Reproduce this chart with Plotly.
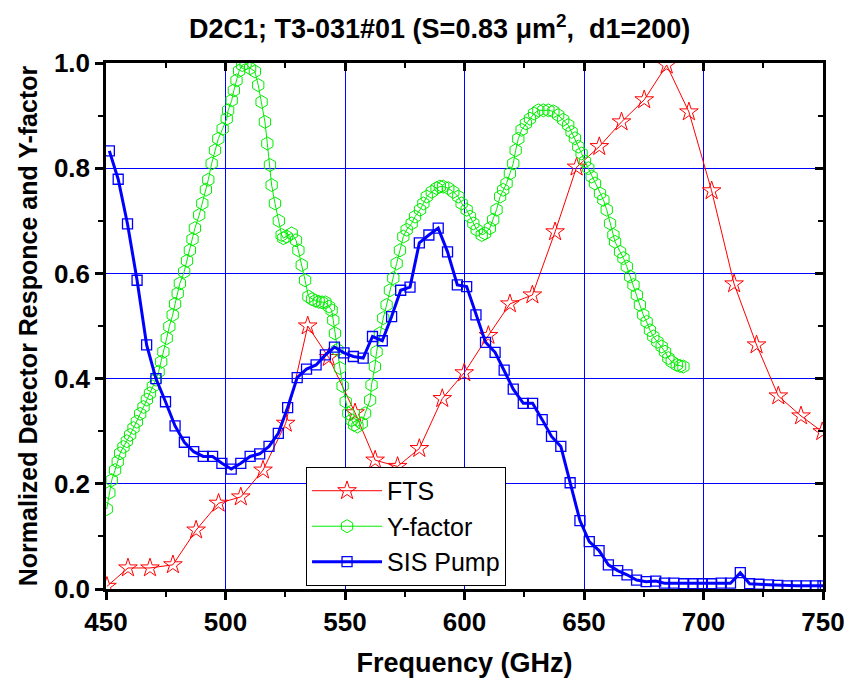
import plotly.graph_objects as go

# ---------------- data ----------------
fts_x = [450.4, 459.2, 468.4, 478.0, 487.7, 497.1, 506.4, 515.7, 525.2, 534.4,
         543.2, 554.2, 562.6, 572.0, 581.1, 590.7, 599.9, 610.0, 619.0, 628.4,
         637.9, 646.9, 656.4, 665.7, 675.2, 684.6, 693.9, 703.4, 712.8, 722.2,
         731.3, 740.8, 749.7]
fts_y = [0.005, 0.040, 0.040, 0.046, 0.112, 0.163, 0.175, 0.226, 0.315, 0.500,
         0.440, 0.335, 0.245, 0.233, 0.267, 0.362, 0.411, 0.482, 0.542, 0.559,
         0.679, 0.802, 0.841, 0.888, 0.930, 0.996, 0.907, 0.757, 0.580, 0.464,
         0.367, 0.329, 0.299]

yf_x = [450.3, 451.4, 452.4, 453.8, 454.9, 455.9, 457.3, 458.7, 460.1, 461.5,
        462.9, 464.3, 465.7, 467.1, 468.4, 469.6, 470.9, 472.0, 473.1, 474.0,
        475.4, 476.5, 477.9, 478.9, 480.0, 480.9, 482.7, 483.9, 485.1, 486.2,
        487.2, 489.0, 490.3, 491.8, 492.8, 494.2, 495.6, 497.0, 498.8, 500.5,
        501.1, 502.6, 503.5, 504.6, 505.7, 507.0, 508.4, 510.3, 512.3, 513.7,
        515.1, 516.5, 517.5, 518.6, 519.3, 520.7, 522.3, 523.5, 524.2, 525.6,
        527.7, 529.5, 530.5, 531.9, 533.3, 534.7, 536.2, 537.6, 539.0, 540.4,
        541.8, 543.3, 544.4, 545.1, 545.8, 546.8, 547.9, 549.0, 550.3, 551.4,
        552.8, 553.8, 555.2, 557.0, 558.4, 560.5, 561.1, 562.5, 563.2, 564.6,
        566.0, 567.4, 568.8, 570.2, 571.6, 573.0, 574.4, 575.8, 577.9, 579.3,
        581.4, 582.8, 584.2, 586.3, 588.3, 589.7, 591.1, 593.2, 595.3, 597.4,
        598.8, 600.9, 602.3, 603.7, 605.1, 607.2, 608.6, 610.6, 612.0, 613.4,
        614.9, 616.2, 617.6, 619.0, 620.4, 621.4, 622.5, 623.9, 625.7, 627.4,
        629.1, 630.9, 633.0, 635.1, 637.2, 639.2, 641.3, 643.4, 644.8, 646.2,
        647.6, 649.0, 650.4, 651.8, 653.2, 654.6, 656.7, 658.1, 659.5, 660.9,
        662.3, 663.0, 665.1, 666.5, 667.9, 669.3, 670.7, 672.1, 673.4, 674.8,
        676.2, 677.6, 679.0, 680.7, 682.5, 683.9, 685.3, 686.7, 688.8, 690.2,
        691.6]
yf_y = [0.152, 0.183, 0.207, 0.226, 0.242, 0.258, 0.270, 0.281, 0.293, 0.306,
        0.318, 0.333, 0.346, 0.360, 0.372, 0.385, 0.398, 0.413, 0.432, 0.451,
        0.477, 0.499, 0.521, 0.542, 0.562, 0.581, 0.603, 0.624, 0.644, 0.665,
        0.686, 0.711, 0.733, 0.759, 0.778, 0.809, 0.834, 0.856, 0.875, 0.894,
        0.910, 0.929, 0.948, 0.967, 0.985, 0.996, 0.999, 0.990, 0.984, 0.958,
        0.926, 0.888, 0.847, 0.806, 0.768, 0.733, 0.700, 0.673, 0.667, 0.670,
        0.676, 0.663, 0.644, 0.616, 0.587, 0.556, 0.551, 0.548, 0.546, 0.545,
        0.545, 0.537, 0.530, 0.511, 0.486, 0.455, 0.420, 0.386, 0.356, 0.334,
        0.321, 0.312, 0.309, 0.315, 0.334, 0.359, 0.388, 0.423, 0.451, 0.486,
        0.515, 0.540, 0.568, 0.591, 0.619, 0.644, 0.670, 0.683, 0.695, 0.708,
        0.721, 0.733, 0.746, 0.755, 0.762, 0.765, 0.765, 0.762, 0.755, 0.746,
        0.733, 0.721, 0.708, 0.695, 0.683, 0.673, 0.676, 0.686, 0.702, 0.721,
        0.746, 0.759, 0.771, 0.790, 0.809, 0.834, 0.856, 0.873, 0.885, 0.894,
        0.904, 0.910, 0.910, 0.910, 0.908, 0.901, 0.892, 0.882, 0.869, 0.857,
        0.841, 0.828, 0.813, 0.800, 0.784, 0.771, 0.752, 0.740, 0.721, 0.695,
        0.673, 0.660, 0.641, 0.629, 0.613, 0.594, 0.578, 0.559, 0.540, 0.521,
        0.508, 0.492, 0.480, 0.470, 0.461, 0.451, 0.439, 0.432, 0.426, 0.424,
        0.423]

sis_x = [451.4, 455.1, 459.0, 463.0, 467.0, 470.9, 474.9, 478.9, 482.8, 486.7,
         490.7, 494.6, 498.5, 502.4, 506.4, 510.3, 514.3, 518.2, 522.1, 526.0,
         530.0, 533.9, 537.9, 541.8, 545.6, 549.6, 553.5, 557.6, 561.5, 565.6,
         569.5, 573.3, 577.2, 581.1, 585.1, 589.0, 592.9, 597.0, 600.9, 604.8,
         608.8, 612.8, 616.6, 620.4, 624.6, 628.5, 632.5, 636.4, 640.3, 644.2,
         648.3, 652.2, 656.3, 660.2, 664.1, 668.0, 672.0, 676.0, 680.0, 683.7,
         687.6, 691.7, 695.6, 699.5, 703.4, 707.4, 711.3, 715.4, 719.3, 723.2,
         727.2, 731.1, 735.0, 738.9, 742.9, 746.8, 750.0]
sis_y = [0.833, 0.779, 0.694, 0.587, 0.464, 0.400, 0.356, 0.310, 0.279, 0.261,
         0.252, 0.252, 0.239, 0.228, 0.239, 0.252, 0.257, 0.271, 0.296, 0.345,
         0.402, 0.418, 0.426, 0.445, 0.460, 0.449, 0.442, 0.439, 0.480, 0.472,
         0.518, 0.568, 0.574, 0.658, 0.673, 0.686, 0.641, 0.578, 0.575, 0.521,
         0.469, 0.450, 0.416, 0.380, 0.353, 0.353, 0.322, 0.290, 0.271, 0.202,
         0.130, 0.090, 0.073, 0.046, 0.035, 0.027, 0.017, 0.014, 0.015, 0.011,
         0.011, 0.010, 0.010, 0.010, 0.010, 0.011, 0.011, 0.031, 0.010, 0.009,
         0.008, 0.007, 0.006, 0.006, 0.006, 0.006, 0.006]

x_ticks = [450, 500, 550, 600, 650, 700, 750]
y_ticks = [0.0, 0.2, 0.4, 0.6, 0.8, 1.0]

FONT = "Liberation Sans, Arial, sans-serif"

fig = go.Figure()
fig.add_trace(go.Scatter(
    x=fts_x, y=fts_y, name="FTS", mode="lines+markers",
    line=dict(color="#FF0000", width=1),
    marker=dict(symbol="star-open", size=14, color="#FF0000", line=dict(width=1, color="#FF0000")),
    xaxis="x", yaxis="y"))
fig.add_trace(go.Scatter(
    x=yf_x, y=yf_y, name="Y-factor", mode="lines+markers",
    line=dict(color="#00EE00", width=1),
    marker=dict(symbol="hexagon-open", size=13, color="#00EE00", line=dict(width=1, color="#00EE00")),
    xaxis="x", yaxis="y"))
fig.add_trace(go.Scatter(
    x=sis_x, y=sis_y, name="SIS Pump", mode="lines+markers",
    line=dict(color="#0000FF", width=3),
    marker=dict(symbol="square-open", size=10, color="#0000FF", line=dict(width=1.3, color="#0000FF")),
    xaxis="x2", yaxis="y2"))

tickfont = dict(family=FONT, size=26, color="black")

fig.update_layout(
    width=848, height=684,
    margin=dict(l=106, r=25, t=63, b=95),
    paper_bgcolor="white", plot_bgcolor="white",
    showlegend=True,
    legend=dict(x=0.279, y=0.232, xanchor="left", yanchor="top",
                bgcolor="white", bordercolor="black", borderwidth=1,
                font=dict(family=FONT, size=25, color="black"),
                itemwidth=70, tracegroupgap=0),
    xaxis=dict(range=[450, 750], tickvals=x_ticks, ticktext=["<b>%d</b>" % v for v in x_ticks],
               showline=True, linecolor="black", linewidth=2.5, mirror=True,
               ticks="outside", ticklen=8, tickwidth=2.5, tickcolor="black",
               minor=dict(ticks="outside", ticklen=5, tickwidth=2, tickcolor="black", dtick=25, showgrid=False),
               showgrid=True, gridcolor="#0000FF", gridwidth=1, zeroline=False,
               tickfont=tickfont, automargin=False,
               title=dict(text="<b>Frequency (GHz)</b>", font=dict(family=FONT, size=27, color="black"), standoff=18)),
    yaxis=dict(range=[0, 1], tickvals=y_ticks, ticktext=["<b>%.1f</b>" % v for v in y_ticks],
               showline=True, linecolor="black", linewidth=2.5, mirror=True,
               ticks="outside", ticklen=8, tickwidth=2.5, tickcolor="black",
               minor=dict(ticks="outside", ticklen=5, tickwidth=2, tickcolor="black", dtick=0.1, showgrid=False),
               showgrid=True, gridcolor="#0000FF", gridwidth=1, zeroline=False,
               tickfont=tickfont, automargin=False,
               title=dict(text="<b>Normalized Detector Responce and Y-factor</b>", font=dict(family=FONT, size=25, color="black"), standoff=10)),
    xaxis2=dict(range=[450, 750], overlaying="x", side="top", anchor="y2",
                tickvals=x_ticks, showticklabels=False, showgrid=False, zeroline=False,
                ticks="inside", ticklen=8, tickwidth=2.5, tickcolor="black",
                minor=dict(ticks="inside", ticklen=5, tickwidth=2, tickcolor="black", dtick=25, showgrid=False)),
    yaxis2=dict(range=[0, 1], overlaying="y", side="right", anchor="x2",
                tickvals=y_ticks, showticklabels=False, showgrid=False, zeroline=False,
                ticks="inside", ticklen=8, tickwidth=2.5, tickcolor="black",
                minor=dict(ticks="inside", ticklen=5, tickwidth=2, tickcolor="black", dtick=0.1, showgrid=False)),
)

fig.add_annotation(
    text="<b>D2C1; T3-031#01 (S=0.83 μm<sup>2</sup>,&nbsp; d1=200)</b>",
    xref="paper", yref="paper", x=(439 - 106) / 717, y=1 + (63 - 27) / 526,
    xanchor="center", yanchor="middle", showarrow=False,
    font=dict(family=FONT, size=27, color="black"))

fig.write_html("out.html")
